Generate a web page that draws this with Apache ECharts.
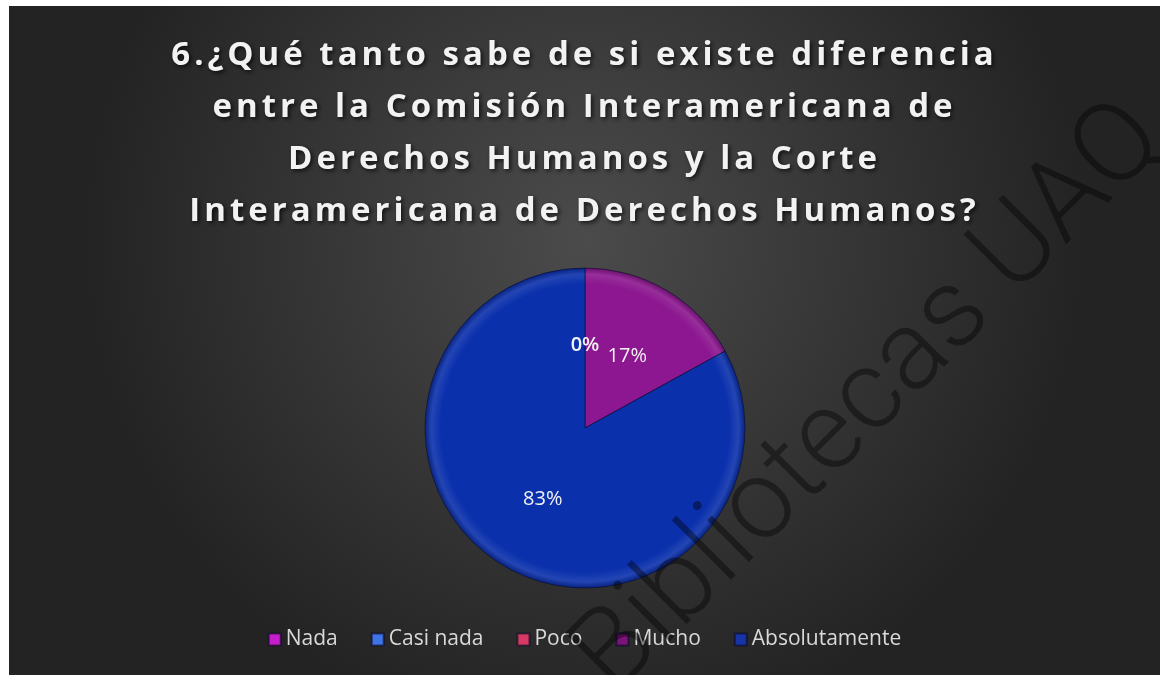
<!DOCTYPE html>
<html>
<head>
<meta charset="utf-8">
<script src="https://cdn.jsdelivr.net/npm/echarts@6/dist/echarts.min.js"></script>
<style>
html,body{margin:0;padding:0;background:#ffffff;}
#chart{position:absolute;left:9px;top:6px;width:1151px;height:669px;}
</style>
</head>
<body>
<div id="chart"></div>
<script>
const titleText = "6.¿Qué tanto sabe de si existe diferencia\nentre la Comisión Interamericana de\nDerechos Humanos y la Corte\nInteramericana de Derechos Humanos?";
const categories = ["Nada", "Casi nada", "Poco", "Mucho", "Absolutamente"];
const values = [0, 0, 0, 17, 83];
const sliceColors = ["#C21BC4", "#3B6FE3", "#D6335F", "#8C1790", "#0B30AC"];
const legendColors = ["#C41FC8", "#3F74E6", "#D63A64", "#7A1478", "#1634A8"];
const watermark = "Bibliotecas UAQ";

// spaced-out title lettering (as in the original)
(function () {
  const proto = CanvasRenderingContext2D.prototype;
  if (!('letterSpacing' in proto)) return;
  ['fillText', 'strokeText'].forEach(fn => {
    const orig = proto[fn];
    proto[fn] = function () {
      const ls = /bold 33px/.test(this.font) ? '4px' : '0px';
      if (this.letterSpacing !== ls) this.letterSpacing = ls;
      return orig.apply(this, arguments);
    };
  });
})();

const chart = echarts.init(document.getElementById('chart'));
const cx = 576, cy = 422, R = 160;

function shade(hex, f) {
  const n = parseInt(hex.slice(1), 16);
  let r = (n >> 16) & 255, g = (n >> 8) & 255, b = n & 255;
  if (f >= 0) { r += (255 - r) * f; g += (255 - g) * f; b += (255 - b) * f; }
  else { r *= 1 + f; g *= 1 + f; b *= 1 + f; }
  return 'rgb(' + Math.round(r) + ',' + Math.round(g) + ',' + Math.round(b) + ')';
}

const data = categories.map((name, i) => ({
  name: name,
  value: values[i],
  label: values[i] === 0 ? { fontWeight: 600 } : undefined,
  itemStyle: {
    color: {
      type: 'radial', x: cx, y: cy, r: R, global: true,
      colorStops: [
        { offset: 0, color: sliceColors[i] },
        { offset: 0.9, color: sliceColors[i] },
        { offset: 0.96, color: shade(sliceColors[i], 0.1) },
        { offset: 1, color: shade(sliceColors[i], -0.25) }
      ]
    }
  }
}));

chart.setOption({
  backgroundColor: {
    type: 'radial', x: 0.5, y: 0.35, r: 0.75,
    colorStops: [
      { offset: 0, color: '#4b4b4b' },
      { offset: 1, color: '#232323' }
    ]
  },
  animation: false,
  title: {
    text: titleText,
    left: 'center',
    top: 19,
    textStyle: {
      color: '#f2f2f2',
      fontFamily: 'Open Sans',
      fontWeight: 'bold',
      fontSize: 33,
      lineHeight: 52,
      textShadowColor: 'rgba(0,0,0,0.7)',
      textShadowBlur: 4,
      textShadowOffsetX: 2,
      textShadowOffsetY: 2
    }
  },
  legend: {
    bottom: 20,
    left: 'center',
    itemWidth: 12,
    itemHeight: 12,
    itemGap: 33,
    icon: 'rect',
    data: categories.map((n, i) => ({ name: n, itemStyle: { color: legendColors[i] } })),
    textStyle: { color: '#d9d9d9', fontFamily: 'Open Sans', fontSize: 21 }
  },
  graphic: [{
    type: 'text',
    x: 862, y: 394,
    rotation: 45 * Math.PI / 180,
    silent: true,
    z: 100,
    style: {
      text: watermark,
      font: '300 112px Roboto',
      fill: 'rgba(0,0,0,0.4)',
      align: 'center',
      verticalAlign: 'middle'
    }
  }],
  series: [{
    type: 'pie',
    center: [cx, cy],
    radius: [0, R],
    startAngle: 90,
    clockwise: true,
    data: data,
    label: {
      show: true,
      position: 'inside',
      color: '#f2f2f2',
      fontFamily: 'Open Sans',
      fontSize: 20,
      formatter: p => Math.round(p.percent) + '%'
    },
    labelLine: { show: false },
    itemStyle: { borderColor: 'rgba(10,10,40,0.6)', borderWidth: 1 },
    emphasis: { disabled: true }
  }]
});
</script>
</body>
</html>
